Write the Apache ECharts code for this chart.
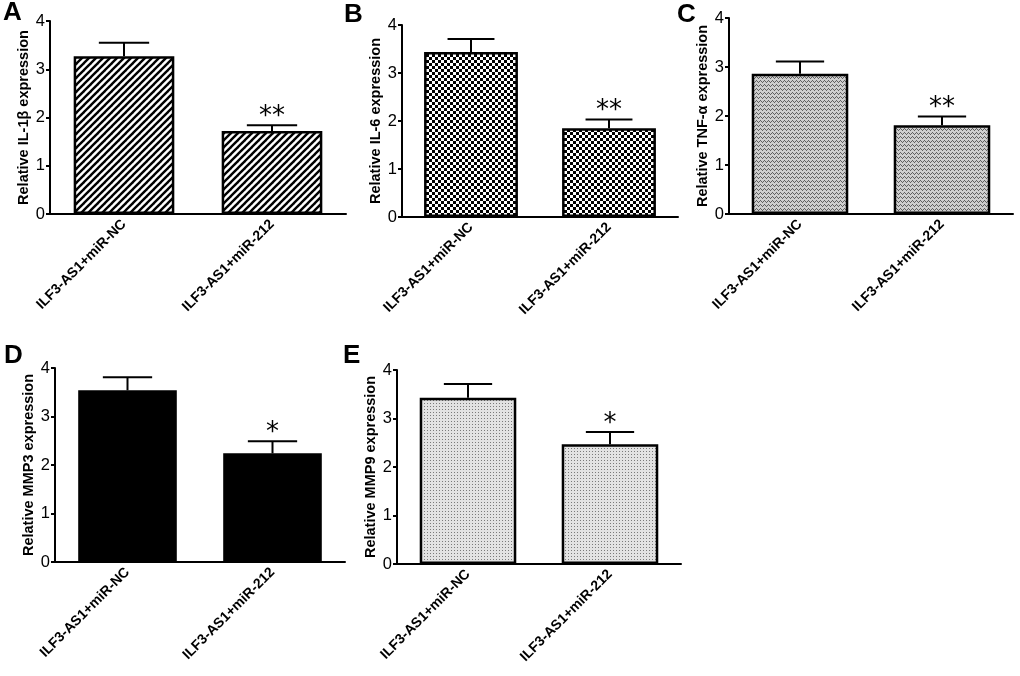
<!DOCTYPE html>
<html>
<head>
<meta charset="utf-8">
<script src="https://cdn.jsdelivr.net/npm/echarts@6/dist/echarts.min.js"></script>
<style>
  html, body { margin: 0; padding: 0; background: #fff; }
  #main { width: 1020px; height: 676px; }
</style>
</head>
<body>
<div id="main"></div>
<script>
var categories = ['ILF3-AS1+miR-NC', 'ILF3-AS1+miR-212'];
var yTicks = [0, 1, 2, 3, 4];

var il1bMean = [3.27, 1.72];
var il1bErr = [0.28, 0.12];
var il6Mean = [3.44, 1.85];
var il6Err = [0.27, 0.18];
var tnfMean = [2.86, 1.81];
var tnfErr = [0.25, 0.18];
var mmp3Mean = [3.54, 2.24];
var mmp3Err = [0.27, 0.25];
var mmp9Mean = [3.43, 2.47];
var mmp9Err = [0.28, 0.25];

var il1bSig = ['', '**'];
var il6Sig = ['', '**'];
var tnfSig = ['', '**'];
var mmp3Sig = ['', '*'];
var mmp9Sig = ['', '*'];

var FONT = '"Liberation Sans", Arial, sans-serif';

// fill patterns
function makeTile(w, h, draw) {
  var c = document.createElement('canvas');
  c.width = w;
  c.height = h;
  draw(c.getContext('2d'));
  return { image: c, repeat: 'repeat' };
}

var hatch = makeTile(7, 7, function (ctx) {
  ctx.fillStyle = '#fff';
  ctx.fillRect(0, 0, 7, 7);
  ctx.strokeStyle = '#000';
  ctx.lineWidth = 2.4;
  [-7, 0, 7].forEach(function (o) {
    ctx.beginPath();
    ctx.moveTo(o - 1, 8);
    ctx.lineTo(o + 8, -1);
    ctx.stroke();
  });
});

var checker = makeTile(6, 6, function (ctx) {
  ctx.fillStyle = '#fff';
  ctx.fillRect(0, 0, 6, 6);
  ctx.fillStyle = '#000';
  ctx.fillRect(0, 0, 3, 3);
  ctx.fillRect(3, 3, 3, 3);
});

var weave = makeTile(4, 4, function (ctx) {
  ctx.fillStyle = '#cecece';
  ctx.fillRect(0, 0, 4, 4);
  ctx.fillStyle = '#606060';
  ctx.fillRect(0, 0, 1, 1);
  ctx.fillRect(1, 1, 1, 1);
  ctx.fillRect(2, 2, 1, 1);
  ctx.fillRect(3, 1, 1, 1);
});

var dots = makeTile(3, 3, function (ctx) {
  ctx.fillStyle = '#e2e2e2';
  ctx.fillRect(0, 0, 3, 3);
  ctx.fillStyle = '#7a7a7a';
  ctx.fillRect(1, 1, 1, 1);
});

var panels = [
  { letter: 'A', name: 'Relative IL-1β expression', mean: il1bMean, err: il1bErr, sig: il1bSig, fill: hatch,
    grid: { left: 50, top: 21, width: 296, height: 193 }, lx: 3, ly: 0 },
  { letter: 'B', name: 'Relative IL-6 expression', mean: il6Mean, err: il6Err, sig: il6Sig, fill: checker,
    grid: { left: 402, top: 25, width: 276, height: 192 }, lx: 344, ly: 2 },
  { letter: 'C', name: 'Relative TNF-α expression', mean: tnfMean, err: tnfErr, sig: tnfSig, fill: weave,
    grid: { left: 729, top: 18, width: 284, height: 196 }, lx: 677, ly: 2 },
  { letter: 'D', name: 'Relative MMP3 expression', mean: mmp3Mean, err: mmp3Err, sig: mmp3Sig, fill: '#000',
    grid: { left: 55, top: 368, width: 290, height: 194 }, lx: 4, ly: 343 },
  { letter: 'E', name: 'Relative MMP9 expression', mean: mmp9Mean, err: mmp9Err, sig: mmp9Sig, fill: dots,
    grid: { left: 397, top: 370, width: 284, height: 194 }, lx: 343, ly: 343 }
];

var grids = [], xAxes = [], yAxes = [], series = [], titles = [];

panels.forEach(function (p, i) {
  grids.push(p.grid);
  xAxes.push({
    type: 'category',
    gridIndex: i,
    data: categories,
    axisLine: { lineStyle: { color: '#000', width: 2 } },
    axisTick: { alignWithLabel: true, length: 5, lineStyle: { color: '#000', width: 2 } },
    axisLabel: { rotate: 45, color: '#000', fontWeight: 'bold', fontSize: 14, fontFamily: FONT, margin: 8, interval: 0 }
  });
  yAxes.push({
    type: 'value',
    gridIndex: i,
    min: yTicks[0],
    max: yTicks[yTicks.length - 1],
    interval: 1,
    name: p.name,
    nameLocation: 'middle',
    nameGap: 15,
    nameTextStyle: { color: '#000', fontWeight: 'bold', fontSize: 14.5, fontFamily: FONT },
    axisLine: { show: true, lineStyle: { color: '#000', width: 2 } },
    axisTick: { show: true, length: 4, lineStyle: { color: '#000', width: 2 } },
    axisLabel: { color: '#000', fontSize: 16.5, fontFamily: FONT, margin: 5 },
    splitLine: { show: false }
  });
  series.push({
    type: 'bar',
    xAxisIndex: i,
    yAxisIndex: i,
    barWidth: '68%',
    data: p.mean,
    itemStyle: { color: p.fill, borderColor: '#000', borderWidth: 2.5 },
    z: 2
  });
  series.push({
    type: 'custom',
    xAxisIndex: i,
    yAxisIndex: i,
    data: p.mean.map(function (m, k) { return [k, m, p.err[k]]; }),
    z: 3,
    renderItem: function (params, api) {
      var base = api.coord([api.value(0), api.value(1)]);
      var top = api.coord([api.value(0), api.value(1) + api.value(2)]);
      var half = api.size([1, 0])[0] * 0.68 / 4;
      var sig = p.sig[params.dataIndex];
      var children = [
        { type: 'line', shape: { x1: base[0], y1: base[1], x2: top[0], y2: top[1] }, style: { stroke: '#000', lineWidth: 2 } },
        { type: 'line', shape: { x1: top[0] - half, y1: top[1], x2: top[0] + half, y2: top[1] }, style: { stroke: '#000', lineWidth: 2 } }
      ];
      if (sig) {
        children.push({
          type: 'text',
          style: { text: sig, x: top[0], y: top[1] + 5, align: 'center', verticalAlign: 'bottom',
            fill: '#000', font: '26px "DejaVu Sans", sans-serif' }
        });
      }
      return { type: 'group', children: children };
    }
  });
  titles.push({
    text: p.letter,
    left: p.lx,
    top: p.ly,
    padding: 0,
    textStyle: { color: '#000', fontSize: 26, fontWeight: 'bold', fontFamily: FONT }
  });
});

var myChart = echarts.init(document.getElementById('main'));
var option = {
  backgroundColor: '#fff',
  animation: false,
  title: titles,
  grid: grids,
  xAxis: xAxes,
  yAxis: yAxes,
  series: series
};
myChart.setOption(option);
window.addEventListener('resize', function () {
  myChart.resize();
});
</script>
</body>
</html>
